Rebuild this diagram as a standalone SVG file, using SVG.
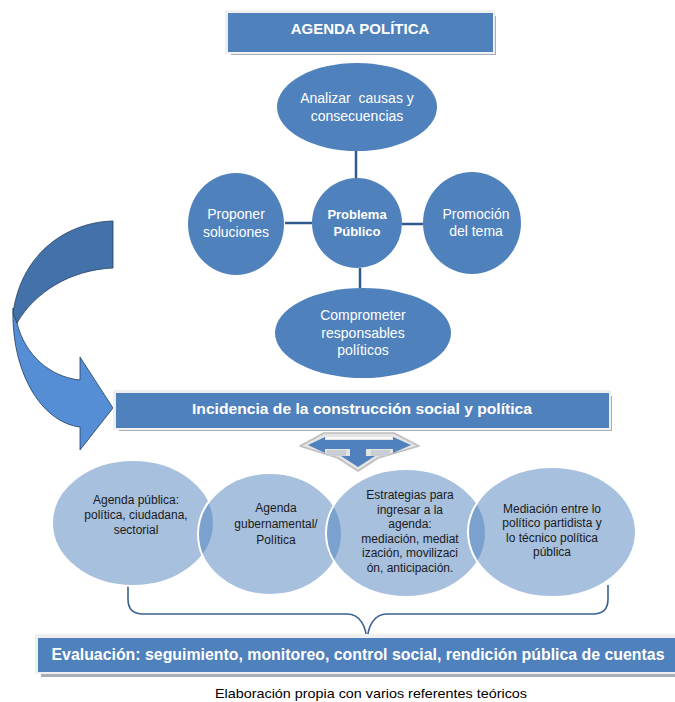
<svg xmlns="http://www.w3.org/2000/svg" width="675" height="702" viewBox="0 0 675 702">
<style>
  text { font-family: "Liberation Sans", Arial, sans-serif; text-anchor: middle; }
  .shadow { fill: #A6AEB8; }
  .frame { fill: #EFEFEF; }
  .box { fill: #4F81BD; }
  .hdr { fill: #FFFFFF; font-weight: bold; }
  .node { fill: #4F81BD; }
  .ntx { fill: #FFFFFF; font-size: 14px; }
  .ctx { fill: #FFFFFF; font-size: 13px; font-weight: bold; }
  .lnode { fill: #4F81BD; fill-opacity: 0.5; stroke: #FFFFFF; stroke-width: 2; }
  .ltx { fill: #1A1A1A; font-size: 12px; }
  .conn { stroke: #2F5B8C; stroke-width: 2.5; fill: none; }
  .brace { stroke: #3A6294; stroke-width: 1.6; fill: none; }
</style>
<rect width="675" height="702" fill="#FFFFFF"/>

<g id="agenda-politica">
  <rect class="shadow" x="231" y="16" width="265" height="39"/>
  <rect class="frame" x="225" y="10" width="270" height="44"/>
  <rect class="box" x="228" y="13" width="265" height="39"/>
  <text class="hdr" x="360" y="34" font-size="15">AGENDA POLÍTICA</text>
</g>

<g id="connectors">
  <line class="conn" x1="356" y1="151" x2="356" y2="178"/>
  <line class="conn" x1="285" y1="223" x2="312" y2="223"/>
  <line class="conn" x1="402" y1="224" x2="423" y2="224"/>
  <line class="conn" x1="360" y1="268" x2="360" y2="288"/>
  <path class="brace" d="M128,585 L128,599 Q128,614 143,614 L347,614 C360,614 367,626 367,645"/>
  <path class="brace" d="M608,585 L608,599 Q608,614 593,614 L387,614 C374,614 367,626 367,645"/>
</g>

<g id="analizar">
  <ellipse class="node" cx="357" cy="107" rx="80" ry="44"/>
  <text class="ntx" x="357" y="103" style="white-space:pre">Analizar  causas y</text>
  <text class="ntx" x="357" y="121">consecuencias</text>
</g>
<g id="proponer">
  <ellipse class="node" cx="236" cy="224" rx="48" ry="51"/>
  <text class="ntx" x="236" y="219">Proponer</text>
  <text class="ntx" x="236" y="237">soluciones</text>
</g>
<g id="problema">
  <circle class="node" cx="357" cy="223" r="45"/>
  <text class="ctx" x="357" y="219">Problema</text>
  <text class="ctx" x="357" y="236">Público</text>
</g>
<g id="promocion">
  <ellipse class="node" cx="472" cy="223" rx="49" ry="51"/>
  <text class="ntx" x="476" y="219">Promoción</text>
  <text class="ntx" x="476" y="236">del tema</text>
</g>
<g id="comprometer">
  <ellipse class="node" cx="363" cy="333" rx="88" ry="45"/>
  <text class="ntx" x="363" y="320">Comprometer</text>
  <text class="ntx" x="363" y="338">responsables</text>
  <text class="ntx" x="363" y="355">políticos</text>
</g>

<g id="curved-arrow" stroke="#243F60" stroke-width="0.8" stroke-linejoin="round">
  <path fill="#558ED5" d="M13,308 C11,370 40,422 80,427 L80,450 L113,408 L80,357 L80,380 C50,377 25,355 17,323 Z"/>
  <path fill="#4371A9" d="M113,221 C70,222 22,250 13,313 L17,323 C35,292 70,270 113,268 Z"/>
</g>

<g id="incidencia">
  <rect class="shadow" x="119" y="396" width="493" height="35"/>
  <rect class="frame" x="113" y="390" width="498" height="40"/>
  <rect class="box" x="116" y="393" width="493" height="35"/>
  <text class="hdr" x="362" y="414" font-size="15" textLength="340" lengthAdjust="spacingAndGlyphs">Incidencia de la construcción social y política</text>
</g>

<g id="t-arrow">
  <polygon points="300,446 324,433 394,433 419,446 378,458 358,471 338,458" fill="#E4E4E4" stroke="#BDBDBD" stroke-width="1.5" stroke-linejoin="round"/>
  <polygon points="308,445 325,437 325,440 393,440 393,437 411,445 393,453 393,449 366,449 366,456 375,456 358,467 341,456 350,456 350,449 325,449 325,453" fill="#4F81BD"/>
  <line x1="326" y1="438" x2="392" y2="438" stroke="#FFFFFF" stroke-width="1.5"/>
  <rect x="327" y="450" width="19" height="6" fill="#C9CED5"/>
  <rect x="371" y="450" width="19" height="6" fill="#C9CED5"/>
</g>

<g id="agenda-publica">
  <ellipse class="lnode" cx="133" cy="523" rx="81" ry="63"/>
</g>
<g id="agenda-gubernamental">
  <ellipse class="lnode" cx="270" cy="534" rx="72" ry="61"/>
</g>
<g id="estrategias">
  <ellipse class="lnode" cx="406" cy="533" rx="80" ry="64"/>
</g>
<g id="mediacion">
  <ellipse class="lnode" cx="552" cy="532" rx="84" ry="65"/>
</g>
<g id="bottom-labels">
  <text class="ltx" x="136" y="504">Agenda pública:</text>
  <text class="ltx" x="136" y="519">política, ciudadana,</text>
  <text class="ltx" x="136" y="534">sectorial</text>
  <text class="ltx" x="276" y="512">Agenda</text>
  <text class="ltx" x="276" y="528">gubernamental/</text>
  <text class="ltx" x="276" y="544">Política</text>
  <text class="ltx" x="410" y="499">Estrategias para</text>
  <text class="ltx" x="410" y="514">ingresar a la</text>
  <text class="ltx" x="410" y="528">agenda:</text>
  <text class="ltx" x="410" y="543">mediación, mediat</text>
  <text class="ltx" x="410" y="557">ización, movilizaci</text>
  <text class="ltx" x="410" y="572">ón, anticipación.</text>
  <text class="ltx" x="552" y="513">Mediación entre lo</text>
  <text class="ltx" x="552" y="527">político partidista y</text>
  <text class="ltx" x="552" y="542">lo técnico política</text>
  <text class="ltx" x="552" y="556">pública</text>
</g>

<g id="evaluacion">
  <rect class="shadow" x="41" y="641" width="640" height="36"/>
  <rect class="frame" x="35" y="634" width="645" height="40"/>
  <rect class="box" x="38" y="638" width="640" height="34"/>
  <text class="hdr" x="358" y="660" font-size="16" textLength="613" lengthAdjust="spacingAndGlyphs">Evaluación: seguimiento, monitoreo, control social, rendición pública de cuentas</text>
</g>

<text x="371" y="698" font-size="13" fill="#000000" textLength="312" lengthAdjust="spacingAndGlyphs">Elaboración propia con varios referentes teóricos</text>
</svg>
